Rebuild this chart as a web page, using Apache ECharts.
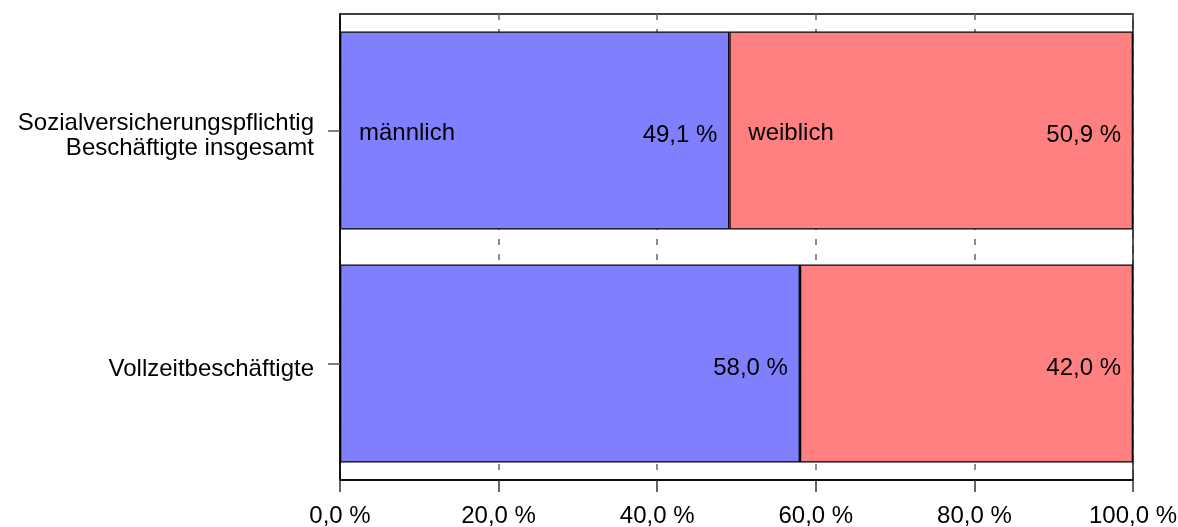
<!DOCTYPE html>
<html>
<head>
<meta charset="utf-8">
<script src="https://cdn.jsdelivr.net/npm/echarts@6/dist/echarts.min.js"></script>
<style>html,body{margin:0;padding:0;background:#fff}#c{width:1178px;height:527px}</style>
</head>
<body>
<div id="c"></div>
<script>
var categories = ['Sozialversicherungspflichtig\nBeschäftigte insgesamt', 'Vollzeitbeschäftigte'];
var seriesNames = ['männlich', 'weiblich'];
var maleValues = [49.1, 58.0];
var femaleValues = [50.9, 42.0];
var xTicks = [0, 20, 40, 60, 80, 100];

var FONT = 'Liberation Sans, Arial, sans-serif';
var FS = 24;
function fmt(v) { return v.toFixed(1).replace('.', ',') + ' %'; }

var chart = echarts.init(document.getElementById('c'), null, {renderer: 'canvas'});
var valueLabel = {
  show: true, position: 'insideRight', distance: 12, offset: [0, 5],
  color: '#000', fontFamily: FONT, fontSize: FS,
  formatter: function (p) { return fmt(p.value); }
};
var nameLabel = {
  show: true, position: 'insideLeft', distance: 19, offset: [0, 3],
  color: '#000', fontFamily: FONT, fontSize: FS,
  formatter: function (p) { return p.seriesName; }
};
chart.setOption({
  animation: false,
  grid: {left: 340, right: 45, top: 14, bottom: 47, show: true, borderColor: '#000', borderWidth: 1.5,
         containLabel: false, outerBoundsMode: 'none'},
  xAxis: {
    type: 'value', min: xTicks[0], max: xTicks[xTicks.length - 1], interval: 20,
    axisLine: {show: true, lineStyle: {color: '#000', width: 1.5}},
    axisTick: {show: true, inside: false, length: 12, lineStyle: {color: '#333', width: 1.5}},
    splitLine: {show: true, lineStyle: {color: '#666', type: [6, 9], width: 1.5}},
    axisLabel: {color: '#000', fontFamily: FONT, fontSize: FS, margin: 24, formatter: function (v) { return fmt(v); }}
  },
  yAxis: {
    type: 'category', data: categories, inverse: true,
    axisLine: {show: true, lineStyle: {color: '#000', width: 1.5}},
    axisTick: {show: true, alignWithLabel: true, length: 12, lineStyle: {color: '#555', width: 1.5}},
    axisLabel: {
      color: '#000', fontFamily: FONT, fontSize: FS, margin: 26, align: 'right',
      formatter: function (v) {
        var lines = v.split('\n');
        return lines.map(function (l, i) { return (i === 0 ? '{f|' : '{r|') + l + '}'; }).join('\n');
      },
      rich: {
        f: {fontFamily: FONT, fontSize: FS, color: '#000', lineHeight: 36, verticalAlign: 'bottom', align: 'right'},
        r: {fontFamily: FONT, fontSize: FS, color: '#000', lineHeight: 26, align: 'right'}
      }
    }
  },
  series: [
    {name: seriesNames[0], type: 'bar', stack: 'a', data: maleValues, barWidth: '85%',
     itemStyle: {color: '#8080ff', borderColor: '#000', borderWidth: 1.3}, label: valueLabel},
    {name: seriesNames[1], type: 'bar', stack: 'a', data: femaleValues, barWidth: '85%',
     itemStyle: {color: '#ff8080', borderColor: '#000', borderWidth: 1.3}, label: valueLabel},
    {name: seriesNames[0], type: 'bar', stack: 'b', barGap: '-100%', barWidth: '85%', silent: true,
     data: [maleValues[0], '-'], itemStyle: {color: 'rgba(0,0,0,0)'}, label: nameLabel},
    {name: seriesNames[1], type: 'bar', stack: 'b', barGap: '-100%', barWidth: '85%', silent: true,
     data: [femaleValues[0], '-'], itemStyle: {color: 'rgba(0,0,0,0)'}, label: nameLabel}
  ]
});
</script>
</body>
</html>
